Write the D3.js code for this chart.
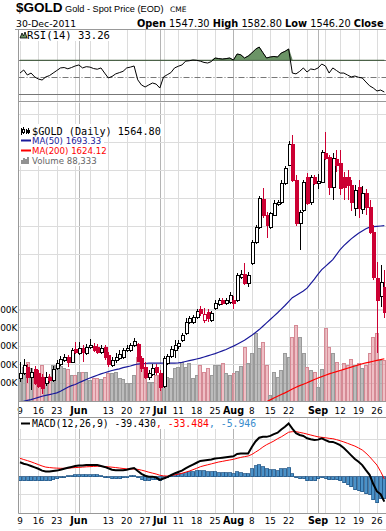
<!DOCTYPE html>
<html>
<head>
<meta charset="utf-8">
<script src="https://cdn.jsdelivr.net/npm/d3@7"></script>
<style>
  body { margin: 0; background: #fff; }
  svg { display: block; }
  text { font-family: "DejaVu Sans", Verdana, sans-serif; }
  .mono { font-family: "DejaVu Sans Mono", monospace; }
</style>
</head>
<body>
<svg width="386" height="531"></svg>
<script>
// daily candles, 9-May-2011 .. 28-Sep-2011
var open = [1479,1487.5,1498,1480,1495,1487.5,1480,1470,1480,1475,
  1496,1504,1511,1516,1507,1530,1523,1532,1523,1534,
  1536,1534,1525,1534,1520,1502,1511,1514,1516,1529,
  1529,1537.5,1539,1514,1498,1480,1486,1498,1487.5,1464,
  1505,1518,1529,1536,1546,1559,1579,1579,1587.5,1602,
  1582,1596,1582,1604,1611,1618,1612.5,1614,1618,1618,
  1659,1664,1648,1684,1721,1748,1798,1770,1748,1770,
  1789,1793,1827,1859,1896,1832,1755,1779,1837.5,1793,
  1837.5,1827,1829,1880,1873,1820,1870,1862.5,1837.5,1837.5,
  1823,1782,1820,1780,1809,1784,1739,1657,1625,1641];
var high = [1507,1512.5,1504,1496,1500,1493,1486,1489,1486,1500,
  1511,1518,1521,1520,1532,1543,1543,1537.5,1539,1548,
  1541,1539,1537.5,1537.5,1525,1516,1523,1529,1532,1537.5,
  1541,1550,1541,1518,1507,1493,1504,1504,1493,1518,
  1521,1536,1546,1546,1559,1586,1589,1591,1602,1607,
  1604,1602,1598,1618,1621,1621,1621,1632,1625,1666,
  1671,1684,1668,1725,1752,1804,1818,1775,1775,1796,
  1796,1832,1857,1902,1912.5,1841,1779,1832,1845,1841,
  1841,1843,1886,1918,1877,1880,1886,1886,1846,1850,
  1832,1823,1832,1821,1816,1796,1752,1686,1680,1671];
var low = [1471,1484,1470,1457,1466,1461,1450,1464,1470,1471,
  1493,1500,1507,1498,1505,1521,1520,1507,1520,1530,
  1525,1521,1521,1511,1498,1498,1505,1511,1512.5,1525,
  1525,1534,1507,1489,1477,1475,1482,1484,1455,1461,
  1502,1514,1514,1530,1543,1555,1575,1575,1584,1589,
  1577,1579,1579,1600,1607,1609,1609,1611,1602,1614,
  1655,1645,1641,1680,1718,1745,1764,1729,1745,1768,
  1786,1789,1823,1857,1829,1750,1707,1775,1787.5,1787.5,
  1823,1816,1827,1868,1805,1796,1846,1805,1796,1796,
  1777,1768,1764,1771,1770,1736,1654,1523,1605,1586];
var close = [1487.5,1502,1480,1489,1470,1464,1461,1480,1475,1495,
  1505,1512.5,1516,1507,1529,1525,1532,1525,1534,1537.5,
  1529,1525,1532,1516,1504,1511,1516,1521,1529,1532,
  1537.5,1545,1509,1496,1480,1487.5,1496,1489,1462.5,1514,
  1518,1530,1537.5,1541,1555,1579,1586,1587.5,1598,1595,
  1593,1586,1595,1612.5,1618,1612.5,1618,1627,1612.5,1662.5,
  1664,1648,1662.5,1721,1748,1800,1770,1752,1773,1791,
  1793,1827,1853.6,1896,1832,1755,1775,1829,1791,1837.5,
  1827,1830,1882,1871,1820,1871,1859,1818,1820,1823,
  1793,1814,1782,1809,1784,1739,1659,1618,1650,1596];
// volume in thousands
var volume = [152,185,212,179,125,125,196,130,135,196,
  196,190,179,175,141,141,158,158,160,114,
  125,125,122,130,152,150,158,125,120,98,
  100,141,239,200,152,103,105,141,141,152,
  130,125,179,185,212,185,206,125,141,196,
  158,179,141,196,196,206,152,141,152,163,
  190,293,206,261,370,288,321,196,33,158,
  130,168,261,239,348,413,348,261,185,168,
  158,76,174,397,293,261,212,168,206,196,
  228,196,206,179,196,261,348,370,223,223];
var ma50 = [1434,1437,1438.5,1440,1442,1444,1446,1447.5,1449,1450.5,
  1452,1455,1458.5,1462,1465,1467,1470,1473,1476,1478.5,
  1481,1483.5,1486,1488,1490,1492,1493.5,1495,1497,1498.5,
  1500,1502,1503.5,1504,1504.5,1505,1505,1505,1505,1505,
  1505,1505,1505,1505.5,1506.5,1508,1509.5,1511,1512.5,1514,
  1516,1518,1520,1522,1524.5,1527,1529.5,1532.5,1535.5,1539,
  1542.5,1546,1550.5,1555,1560,1565,1571,1577,1583,1589,
  1595,1601.5,1608,1615,1622,1626,1630,1634,1639,1647,
  1655,1664,1672,1678,1684,1690,1699,1708,1715,1721,
  1727,1732,1737,1741,1745,1748,1749,1749.5,1750,1750.5];
var ma200 = [1300,1302,1304,1306,1308,1310,1312,1314,1316,1318,
  1320,1322,1324,1326,1328,1330,1332,1334,1336,1338,
  1340,1342,1344,1346,1348,1350,1352,1354,1356,1358,
  1360,1362,1364,1366,1368,1370,1372,1374,1376,1378,
  1380,1382,1384,1386,1388,1390,1392,1394,1396,1398,
  1400,1402,1404,1406,1408,1410,1412,1414,1416,1418,
  1420,1422,1424,1426,1428.5,1431,1433.5,1436,1439.5,1443,
  1446,1449,1452,1455.5,1459,1462,1465,1467.5,1470,1473,
  1476,1478.5,1481,1483.5,1486,1488,1490,1492,1494,1496,
  1498,1500,1502,1504,1505.5,1507,1508.5,1510,1511.5,1513];
var rsi = [55,58.6,52.7,55,50.4,48,46.8,50.4,52,55,
  58,61,61.5,60,61.5,63.3,64.5,61,62.5,62,
  60.3,59.5,61,55,49.2,51,54,55.5,57,61,
  62,63.3,47,41,38.6,41,43.3,42,37.4,50.4,
  53,55.5,61,63,64.5,69,69.5,70.3,70,69,
  67.5,66.8,68.5,72.7,72,71.5,72,72.7,70.3,77.4,
  76.5,72.7,75,78.6,83,85.6,79,72.7,73.9,74.5,
  73.9,78.6,80.5,83.3,55,54,57,61,56.2,59.8,
  59,61,65.6,63.3,55,61,58,55,55,52.7,
  50.4,51.5,50,49.2,44.5,40,37.4,33.9,35,32.7];
var macd = [14.5,13,12,10.5,9,7.5,5.5,4.5,4.5,5,
  5.5,6.5,7.5,8.5,9.5,10.5,11,11,11.5,11.5,
  11.5,11.5,10.5,9.5,8,6.5,6,6,6,6.5,
  7.5,8.3,5,2,0,-1,-1,-2,-4.6,-3,
  -1.5,0.5,2.5,4,5.5,8,10,12,14,16,
  16.5,17,17.5,18.5,19,19.5,20,20.5,21,23.5,
  24,24,24,31,37,41,42,42,43,45,
  46.5,50,53,56.5,51,46,44,43,40.5,39.5,
  38.6,39,40.4,38.5,36.8,36.5,35,33,30,26,
  22,18,15,11.5,6,1,-9,-17,-20,-28];
var signal = [18.8,17.5,16.3,15,13.5,12,10.5,9.3,8.8,8.4,
  8.2,8,8,8.2,8.5,8.8,9,9.3,9.6,9.8,
  10,10.2,10.1,9.9,9.6,9.2,8.8,8.3,7.8,7.4,
  7.2,7.3,6.8,6,5,3.8,2.8,1.8,0.5,-0.2,
  -0.4,0.2,0.8,1.6,2.6,3.8,5,6.5,8,9.7,
  10.8,11.8,12.8,13.8,14.8,15.5,16.3,17,17.7,18.8,
  19.8,20.6,21.3,23,25.5,28,31,33.5,35.5,37.5,
  40,42,44.5,47,47.6,47.6,46.8,46,45,44,
  43,42,41.5,41,40.4,40,39,37.8,36.5,35,
  33.5,32,30,27.8,24.5,20.5,16,11.5,4.5,-3.5];

// date axis: day index of each label, gridlines on week starts and month starts
var tickIdx = [0,5,10,16,24,29,34,38,43,48,53,58,63,68,73,81,87,92,97];
var tickLabel = ["9","16","23","Jun","13","20","27","Jul","11","18","25","Aug","8","15","22","Sep","12","19","26"];
var weekIdx = [0,5,10,15,19,24,29,34,39,43,48,53,58,63,68,73,78,83,87,92,97];
var monthIdx = [16,38,58,81];

var priceGrid = [1600,1650,1700,1750,1800,1850,1900,1950];
var volTicks = [100,200,300,400,500];
var volLabels = ["100K","200K","300K","400K","500K"];
var rsiLevels = [30,50,70];
var macdGrid = [-40,-20,0,20,40];

var svg = d3.select("svg");
var N = close.length;
var left = 18.5, right = 386;
var rsiTop = 29.5, rsiBot = 101.5, pTop = 102.5, pBot = 401.5, mTop = 417.5, mBot = 513.5;
var red = "#cc0033";

var x = d3.scaleBand().domain(d3.range(N)).range([18.16, 18.16 + 3.68 * N]);
function cx(i) { return x(i) + x.bandwidth() / 2; }
function px(i) { return Math.round(cx(i)) + 0.5; }

var yP = d3.scaleLinear().domain([1450, 1950]).range([394, 114]);
var yV = d3.scaleLinear().domain([0, 500]).range([401, 309]);
var yR = d3.scaleLinear().domain([30, 70]).range([94.3, 60.3]);
var yM = d3.scaleLinear().domain([-40, 40]).range([512.7, 438.7]);

function isRed(i) { return close[i] < open[i] || (i > 0 && close[i] < close[i - 1]); }

function clip(id, top, bot) {
  svg.append("clipPath").attr("id", id)
    .append("rect").attr("x", left).attr("y", top).attr("width", right - left).attr("height", bot - top);
  return "url(#" + id + ")";
}

function vGrid(g, top, bot) {
  g.selectAll("line.wk").data(weekIdx).enter().append("line")
    .attr("x1", px).attr("x2", px).attr("y1", top).attr("y2", bot)
    .attr("stroke", "#dcdcdc");
  g.selectAll("line.mo").data(monthIdx).enter().append("line")
    .attr("x1", px).attr("x2", px).attr("y1", top).attr("y2", bot)
    .attr("stroke", "#b4b4b4");
}

function hGrid(g, vals, scale, color) {
  g.selectAll(null).data(vals).enter().append("line")
    .attr("x1", left).attr("x2", right)
    .attr("y1", function(d) { return Math.round(scale(d)) + 0.5; })
    .attr("y2", function(d) { return Math.round(scale(d)) + 0.5; })
    .attr("stroke", color || "#dcdcdc");
}

function dateAxis(y) {
  var g = svg.append("g");
  g.selectAll("text").data(tickIdx).enter().append("text")
    .attr("x", cx).attr("y", y)
    .attr("text-anchor", "middle")
    .attr("font-size", function(d, k) { return isNaN(+tickLabel[k]) ? "9.6px" : "8.8px"; })
    .attr("font-weight", function(d, k) { return isNaN(+tickLabel[k]) ? "bold" : "normal"; })
    .text(function(d, k) { return tickLabel[k]; });
}

function labelBg(g, x0, y0, w, h) {
  g.append("rect").attr("x", x0).attr("y", y0).attr("width", w).attr("height", h).attr("fill", "#fff");
}

// ---------- header ----------
svg.append("text").attr("x", 16).attr("y", 12).attr("font-size", "13.5px").attr("font-weight", "bold")
  .style("font-family", "'Liberation Sans', Arial, sans-serif").text("$GOLD");
svg.append("text").attr("x", 65).attr("y", 11.5).attr("font-size", "9.2px")
  .style("font-family", "'Liberation Sans', Arial, sans-serif").text("Gold - Spot Price (EOD)");
svg.append("text").attr("x", 170).attr("y", 11.5).attr("font-size", "7.5px").text("CME");
svg.append("text").attr("x", 16).attr("y", 26.5).attr("font-size", "9.3px").text("30-Dec-2011");
var ohl = svg.append("text").attr("x", 137).attr("y", 26.5).attr("font-size", "9.8px")
  .attr("xml:space", "preserve").style("white-space", "pre");
[["Open", true], [" 1547.30 ", false], ["High", true], [" 1582.80 ", false],
 ["Low", true], [" 1546.20 ", false], ["Close", true]].forEach(function(p) {
  ohl.append("tspan").attr("font-weight", p[1] ? "bold" : "normal").text(p[0]);
});

// ---------- RSI panel ----------
var gR = svg.append("g");
vGrid(gR, rsiTop, rsiBot);
gR.selectAll("line.lvl").data(rsiLevels).enter().append("line")
  .attr("x1", left).attr("x2", right)
  .attr("y1", function(d) { return Math.round(yR(d)) + 0.5; })
  .attr("y2", function(d) { return Math.round(yR(d)) + 0.5; })
  .attr("stroke", "#777")
  .attr("stroke-dasharray", function(d) { return d === 50 ? "6,2,1,2" : null; });
var rClip = clip("rclip", rsiTop, rsiBot);
gR.append("path").datum(rsi).attr("clip-path", rClip)
  .attr("fill", "#6b9466").attr("stroke", "#3d5a38").attr("stroke-width", 0.6)
  .attr("d", d3.area().x(function(d, i) { return cx(i); })
    .y0(yR(70)).y1(function(d) { return yR(Math.max(d, 70)); }));
gR.append("path").datum(rsi).attr("clip-path", rClip)
  .attr("fill", "none").attr("stroke", "#000").attr("stroke-width", 1)
  .attr("d", d3.line().x(function(d, i) { return cx(i); }).y(yR));
labelBg(gR, 19, 30, 95, 11);
gR.append("path").attr("d", "M20,38 L22,33 L23.5,36 L25,32 L27,38 Z")
  .attr("fill", "#6b9466").attr("stroke", "#000").attr("stroke-width", 0.8);
gR.append("text").attr("class", "mono").attr("x", 27).attr("y", 39).attr("font-size", "10.6px")
  .text("RSI(14) 33.26");

// ---------- price + volume panel ----------
var gP = svg.append("g");
vGrid(gP, pTop, pBot);
hGrid(gP, priceGrid, yP);
hGrid(gP, volTicks, yV);
var pClip = clip("pclip", pTop, pBot);

gP.append("g").attr("clip-path", pClip)
  .selectAll("rect").data(volume).enter().append("rect")
  .attr("x", function(d, i) { return Math.round(x(i)) + 0.5; })
  .attr("width", 3)
  .attr("y", function(d) { return Math.round(yV(d)) + 0.5; })
  .attr("height", function(d) { return Math.round(yV(0)) - Math.round(yV(d)); })
  .attr("fill", function(d, i) { return isRed(i) ? "#e07f8c" : "#8f8f8f"; })
  .attr("fill-opacity", function(d, i) { return isRed(i) ? 0.5 : 0.6; })
  .attr("stroke", function(d, i) { return isRed(i) ? "#d58a95" : "#9a9a9a"; })
  .attr("stroke-width", 1);

gP.append("path").datum(ma200).attr("clip-path", pClip)
  .attr("fill", "none").attr("stroke", "#ff0000").attr("stroke-width", 1.2)
  .attr("d", d3.line().x(function(d, i) { return cx(i); }).y(yP));
gP.append("path").datum(ma50).attr("clip-path", pClip)
  .attr("fill", "none").attr("stroke", "#1a1a9a").attr("stroke-width", 1.2)
  .attr("d", d3.line().x(function(d, i) { return cx(i); }).y(yP));

var candle = gP.append("g").attr("clip-path", pClip)
  .selectAll("g").data(close).enter().append("g")
  .attr("shape-rendering", "crispEdges");
candle.append("line")
  .attr("x1", function(d, i) { return px(i); }).attr("x2", function(d, i) { return px(i); })
  .attr("y1", function(d, i) { return yP(high[i]); })
  .attr("y2", function(d, i) { return yP(low[i]); })
  .attr("stroke", function(d, i) { return isRed(i) ? red : "#000"; });
candle.append("rect")
  .attr("x", function(d, i) { return px(i) - 1.5; })
  .attr("width", 3)
  .attr("y", function(d, i) { return Math.round(yP(Math.max(open[i], close[i]))) + 0.5; })
  .attr("height", function(d, i) {
    return Math.max(1, Math.round(yP(Math.min(open[i], close[i]))) - Math.round(yP(Math.max(open[i], close[i]))));
  })
  .attr("fill", function(d, i) { return close[i] < open[i] ? red : "#fff"; })
  .attr("stroke", function(d, i) { return isRed(i) ? red : "#000"; });

var gL = gP.append("g");
labelBg(gL, 19, 124, 143, 12);
labelBg(gL, 19, 136, 85, 30);
gL.append("path").attr("d", "M21.5,128v7M23.5,127v7M26.5,129v5M28.5,128v6").attr("stroke", "#000").attr("stroke-width", 1);
gL.append("rect").attr("x", 22.5).attr("y", 129.5).attr("width", 2).attr("height", 3).attr("fill", "#fff").attr("stroke", "#000");
gL.append("rect").attr("x", 27.5).attr("y", 130.5).attr("width", 2).attr("height", 2).attr("fill", "#000").attr("stroke", "#000");
gL.append("text").attr("class", "mono").attr("x", 32).attr("y", 134.5).attr("font-size", "10.2px")
  .text("$GOLD (Daily) 1564.80");
gL.append("line").attr("x1", 21).attr("x2", 31).attr("y1", 140.5).attr("y2", 140.5).attr("stroke", "#1a1a9a").attr("stroke-width", 2);
gL.append("text").attr("x", 32).attr("y", 143.5).attr("font-size", "8.6px").attr("fill", "#1a1a9a").text("MA(50) 1693.33");
gL.append("line").attr("x1", 21).attr("x2", 31).attr("y1", 150.5).attr("y2", 150.5).attr("stroke", "#ff0000").attr("stroke-width", 2);
gL.append("text").attr("x", 32).attr("y", 153.5).attr("font-size", "8.6px").attr("fill", "#ff0000").text("MA(200) 1624.12");
gL.append("path").attr("d", "M22,164v-4M24,164v-6M26,164v-5M28,164v-7").attr("stroke", "#777").attr("stroke-width", 1.6);
gL.append("text").attr("x", 32).attr("y", 164).attr("font-size", "8.6px").attr("fill", "#666").text("Volume 88,333");

// volume labels on the left edge (cropped like the original)
svg.append("g").selectAll("text").data(volTicks).enter().append("text")
  .attr("x", 17.5).attr("y", function(d) { return yV(d) + 3.5; })
  .attr("text-anchor", "end").attr("font-size", "9px")
  .text(function(d, k) { return volLabels[k]; });

dateAxis(414);

// ---------- MACD panel ----------
var gM = svg.append("g");
vGrid(gM, mTop, mBot);
hGrid(gM, macdGrid, yM);
var mClip = clip("mclip", mTop, mBot);
var hist = macd.map(function(d, i) { return d - signal[i]; });
gM.append("g").attr("clip-path", mClip)
  .selectAll("rect").data(hist).enter().append("rect")
  .attr("shape-rendering", "crispEdges")
  .attr("x", function(d, i) { return Math.round(x(i)) + 0.5; })
  .attr("width", 3)
  .attr("y", function(d) { return Math.round(yM(Math.max(d, 0))) + 0.5; })
  .attr("height", function(d) { return Math.max(1, Math.abs(Math.round(yM(d)) - Math.round(yM(0)))); })
  .attr("fill", "#4a92c9").attr("stroke", "#24598a").attr("stroke-width", 0.8);
gM.append("path").datum(signal).attr("clip-path", mClip)
  .attr("fill", "none").attr("stroke", "#ff0000").attr("stroke-width", 1)
  .attr("d", d3.line().x(function(d, i) { return cx(i); }).y(yM));
gM.append("path").datum(macd).attr("clip-path", mClip)
  .attr("fill", "none").attr("stroke", "#000").attr("stroke-width", 2)
  .attr("d", d3.line().x(function(d, i) { return cx(i); }).y(yM));
labelBg(gM, 19, 418, 245, 11);
gM.append("line").attr("x1", 21).attr("x2", 30).attr("y1", 423.5).attr("y2", 423.5).attr("stroke", "#000").attr("stroke-width", 2);
var mt = gM.append("text").attr("class", "mono").attr("x", 32).attr("y", 427).attr("font-size", "9.8px");
mt.append("tspan").text("MACD(12,26,9) -39.430");
mt.append("tspan").attr("fill", "#ff0000").text(", -33.484");
mt.append("tspan").attr("fill", "#3a8ccc").text(", -5.946");

dateAxis(523.5);

// frames
svg.append("line").attr("x1", 15).attr("x2", right).attr("y1", rsiTop).attr("y2", rsiTop).attr("stroke", "#999");
svg.append("line").attr("x1", left).attr("x2", right).attr("y1", pTop - 1).attr("y2", pTop - 1).attr("stroke", "#999");
svg.append("line").attr("x1", left).attr("x2", right).attr("y1", pBot).attr("y2", pBot).attr("stroke", "#999");
svg.append("line").attr("x1", left).attr("x2", right).attr("y1", mTop).attr("y2", mTop).attr("stroke", "#999");
svg.append("line").attr("x1", left).attr("x2", right).attr("y1", mBot).attr("y2", mBot).attr("stroke", "#999");
svg.append("line").attr("x1", left).attr("x2", left).attr("y1", rsiTop).attr("y2", mBot).attr("stroke", "#999");
svg.append("line").attr("x1", left).attr("x2", right).attr("y1", 529.5).attr("y2", 529.5).attr("stroke", "#ddd");
</script>
</body>
</html>
